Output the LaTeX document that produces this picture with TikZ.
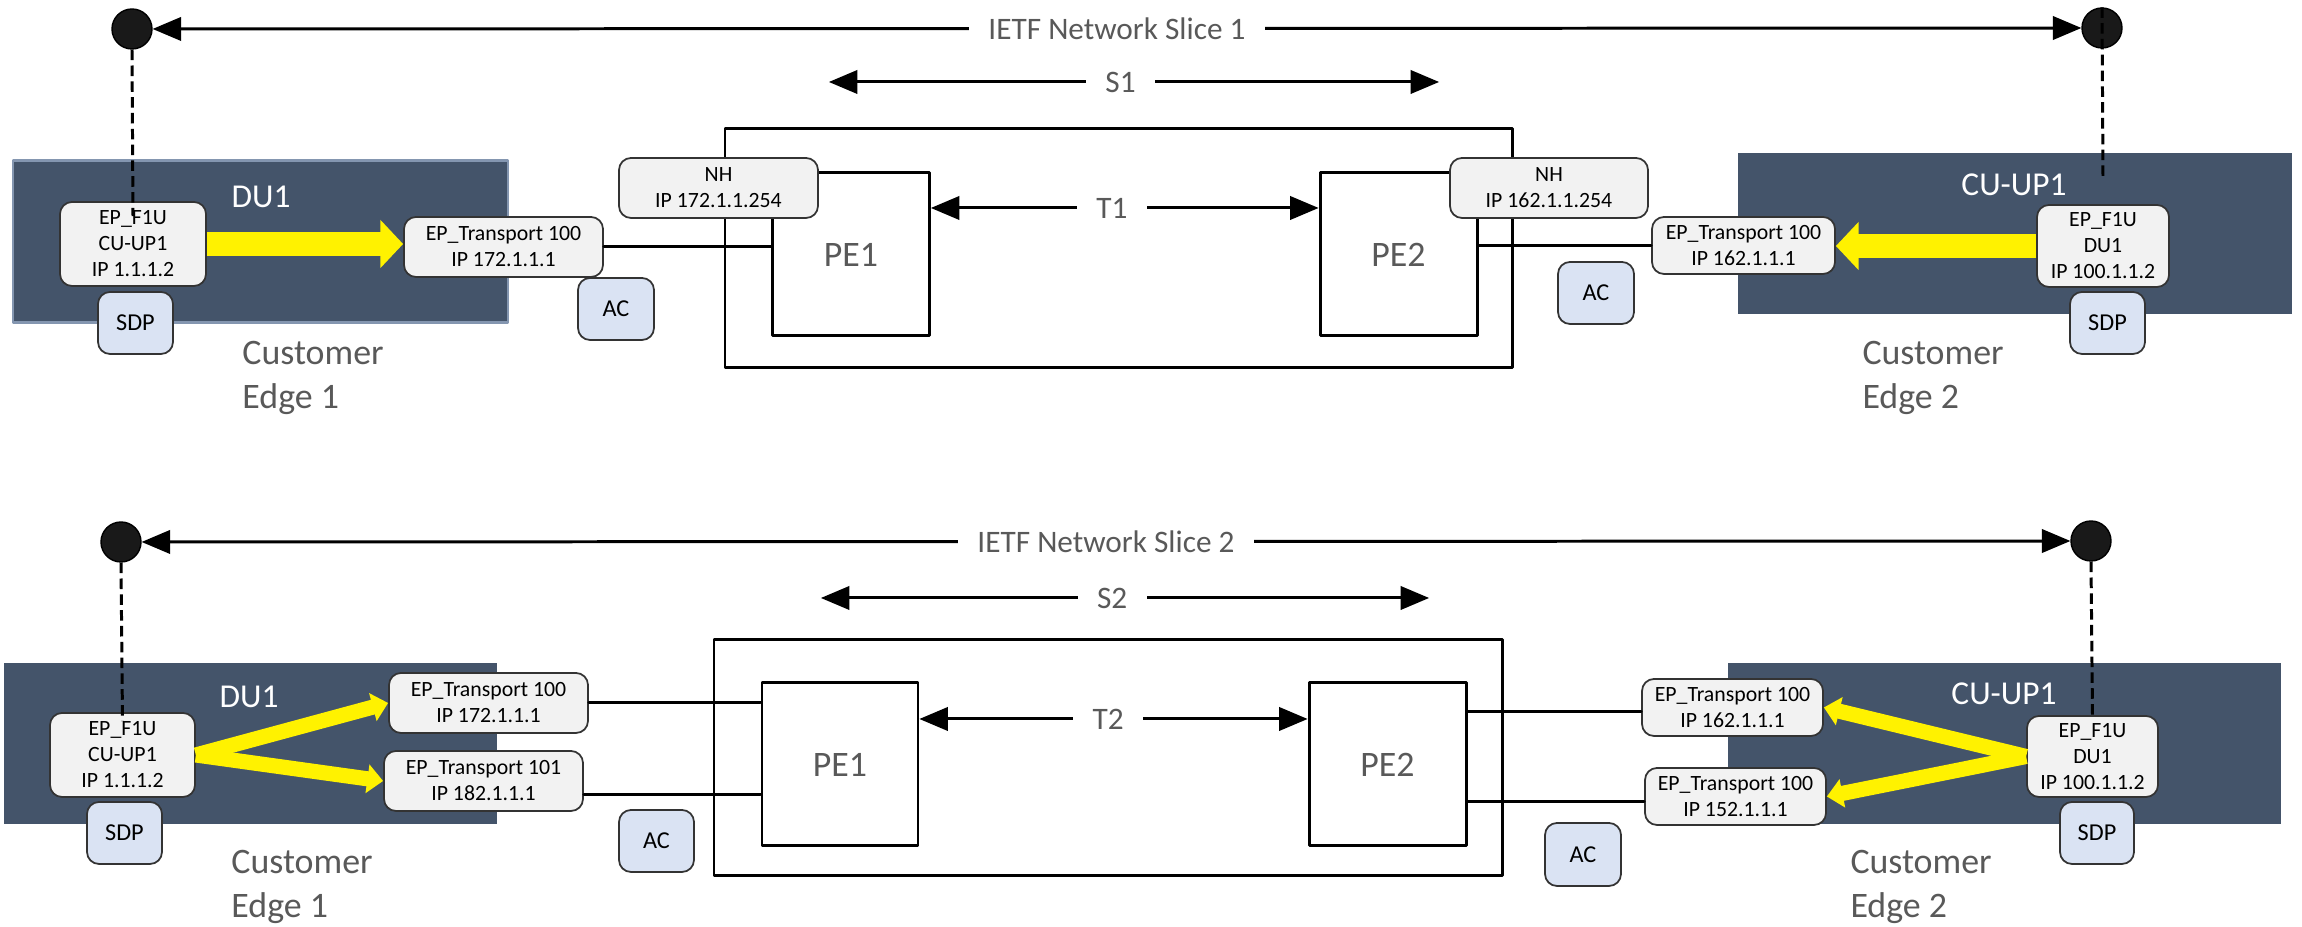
\documentclass[tikz,border=0pt]{standalone}
\usepackage{fontspec}
\setmainfont{Carlito}
\usetikzlibrary{arrows,arrows.meta}

\definecolor{slate}{HTML}{44546A}
\definecolor{slateedge}{HTML}{8496B0}
\definecolor{epfill}{HTML}{F2F2F2}
\definecolor{tagfill}{HTML}{DAE3F3}
\definecolor{txtgray}{HTML}{595959}

\tikzset{
	epbox/.style={draw=black!80,fill=epfill,line width=0.5pt,rounded corners=1.2mm,align=center,inner sep=1pt,font=\fontsize{6.2}{7.4}\selectfont},
	trbox/.style={epbox,minimum width=1.99cm,minimum height=0.6cm},
	f1ubox/.style={epbox,minimum width=1.46cm,minimum height=0.84cm},
	tagbox/.style={draw=black!80,fill=tagfill,line width=0.5pt,rounded corners=1.2mm,inner sep=1pt,minimum width=0.75cm,minimum height=0.62cm,font=\fontsize{6.9}{8}\selectfont},
	pebox/.style={draw,line width=0.85pt,minimum width=1.57cm,minimum height=1.63cm,text=txtgray,font=\fontsize{10.2}{12}\selectfont},
	endpt/.style={circle,draw=black,fill=black!90,line width=0.4pt,minimum size=0.4cm,inner sep=0pt},
	celabel/.style={anchor=west,align=left,inner xsep=0pt,text=txtgray,font=\fontsize{10.2}{12.5}\selectfont},
	grplabel/.style={text=white,font=\fontsize{9.5}{11}\selectfont},
	slicelabel/.style={fill=white,text=txtgray,inner xsep=5.5pt,inner ysep=1pt,font=\fontsize{8.9}{10}\selectfont},
	dashln/.style={line width=0.85pt,dash pattern=on 3pt off 1.5pt,line cap=butt},
	flowbig/.style={yellow,line width=7pt,line cap=butt,-{Triangle[length=6.5pt,width=13.4pt]}},
	flow/.style={yellow,line width=4.3pt,line cap=butt,-{Triangle[length=4.5pt,width=8pt]}}
}

\begin{document}
\begin{tikzpicture}[line cap=round,line join=round,>=triangle 45,x=1cm,y=1cm,line width=0.85pt]
	\useasboundingbox (0,0) rectangle (23.02,9.27);
	% slice 1
	\draw (7.25,7.98) rectangle (15.12,5.59);
	\node[pebox] (pe1A) at (8.51,6.725) {PE1};
	\node[pebox] (pe2A) at (13.985,6.725) {PE2};
	\node[trbox] (nh1) at (7.185,7.39) {NH\\IP 172.1.1.254};
	\node[trbox,minimum width=1.98cm] (nh2) at (15.49,7.39) {NH\\IP 162.1.1.254};
	\draw[fill=slate,draw=slateedge] (0.13,7.66) rectangle (5.08,6.04);
	\fill[slate] (17.38,7.74) rectangle (22.92,6.13);
	\node[grplabel] (du1A) at (2.61,7.30) {DU1};
	\node[grplabel] (cu1A) at (20.14,7.42) {CU-UP1};
	\node[f1ubox] (ef1) at (1.33,6.83) {EP\_F1U\\CU-UP1\\IP 1.1.1.2};
	\node[trbox] (tr1) at (5.035,6.80) {EP\_Transport 100\\IP 172.1.1.1};
	\node[trbox,minimum width=1.83cm,minimum height=0.57cm] (tr2) at (17.435,6.815) {EP\_Transport 100\\IP 162.1.1.1};
	\node[f1ubox,minimum width=1.32cm,minimum height=0.82cm] (ef2) at (21.03,6.81) {EP\_F1U\\DU1\\IP 100.1.1.2};
	\node[tagbox] (sdp1) at (1.355,6.04) {SDP};
	\node[tagbox] (sdp2) at (21.075,6.04) {SDP};
	\node[tagbox,minimum width=0.76cm] (ac1) at (6.16,6.18) {AC};
	\node[tagbox,minimum width=0.76cm] (ac2) at (15.96,6.34) {AC};
	\node[celabel] (ce1) at (2.41,5.49) {Customer\\Edge 1};
	\node[celabel] (ce2) at (18.61,5.49) {Customer\\Edge 2};
	\draw (tr1.east) -- (tr1.east -| pe1A.west);
	\draw (tr2.west) -- (tr2.west -| pe2A.east);
	\draw[flowbig] (ef1.east) -- (ef1.east -| tr1.west);
	\draw[flowbig] (ef2.west) -- (ef2.west -| tr2.east);
	\draw[<->] ([yshift=4.65mm]pe1A.east) -- ([yshift=4.65mm]pe2A.west) node[slicelabel,pos=0.467] {T1};
	\coordinate (s1l) at (8.29,8.45);
	\coordinate (s1r) at (14.39,8.45);
	\draw[<->] (s1l) -- (s1r) node[slicelabel,pos=0.478] {S1};
	\node[endpt] (dotA) at (1.32,8.98) {};
	\node[endpt] (dotB) at (21.02,8.99) {};
	\draw[<->] (dotA) -- (dotB) node[slicelabel,midway] {IETF Network Slice 1};
	\draw[dashln] (dotA.south) -- ([yshift=-1.5mm]ef1.north);
	\draw[dashln] (dotB.north) -- ([yshift=2.7mm]ef2.north);
	% slice 2
	\draw (7.14,2.87) rectangle (15.02,0.51);
	\node[pebox,minimum width=1.56cm] (pe1B) at (8.40,1.625) {PE1};
	\node[pebox] (pe2B) at (13.875,1.625) {PE2};
	\fill[slate] (0.04,2.64) rectangle (4.97,1.03);
	\fill[slate] (17.28,2.64) rectangle (22.81,1.03);
	\node[grplabel] (du1B) at (2.49,2.30) {DU1};
	\node[grplabel] (cu1B) at (20.04,2.33) {CU-UP1};
	\node[f1ubox,minimum width=1.45cm] (ef3) at (1.225,1.72) {EP\_F1U\\CU-UP1\\IP 1.1.1.2};
	\node[trbox] (tr3) at (4.885,2.24) {EP\_Transport 100\\IP 172.1.1.1};
	\node[trbox] (tr4) at (4.835,1.46) {EP\_Transport 101\\IP 182.1.1.1};
	\node[trbox,minimum width=1.81cm,minimum height=0.57cm] (tr5) at (17.325,2.195) {EP\_Transport 100\\IP 162.1.1.1};
	\node[trbox,minimum width=1.81cm,minimum height=0.57cm] (tr6) at (17.355,1.305) {EP\_Transport 100\\IP 152.1.1.1};
	\node[f1ubox,minimum width=1.31cm,minimum height=0.81cm] (ef4) at (20.925,1.705) {EP\_F1U\\DU1\\IP 100.1.1.2};
	\node[tagbox] (sdp3) at (1.245,0.94) {SDP};
	\node[tagbox,minimum width=0.74cm] (sdp4) at (20.97,0.94) {SDP};
	\node[tagbox] (ac3) at (6.565,0.86) {AC};
	\node[tagbox,minimum width=0.76cm,minimum height=0.63cm] (ac4) at (15.83,0.725) {AC};
	\node[celabel] (ce3) at (2.30,0.405) {Customer\\Edge 1};
	\node[celabel] (ce4) at (18.49,0.405) {Customer\\Edge 2};
	\coordinate (tr4o) at ([yshift=-1.4mm]tr4.east);
	\coordinate (tr5o) at ([yshift=-0.45mm]tr5.west);
	\coordinate (tr6o) at ([yshift=-0.55mm]tr6.west);
	\draw (tr3.east) -- (tr3.east -| pe1B.west);
	\draw (tr4o) -- (tr4o -| pe1B.west);
	\draw (tr5o) -- (tr5o -| pe2B.east);
	\draw (tr6o) -- (tr6o -| pe2B.east);
	\draw[flow] (ef3.east) -- (tr3.west);
	\draw[flow] (ef3.east) -- (tr4.west);
	\draw[flow] (ef4.west) -- (tr5.east);
	\draw[flow] (ef4.west) -- (tr6.east);
	\draw[<->] ([yshift=4.55mm]pe1B.east) -- ([yshift=4.55mm]pe2B.west) node[slicelabel,pos=0.486] {T2};
	\coordinate (s2l) at (8.21,3.29);
	\coordinate (s2r) at (14.29,3.29);
	\draw[<->] (s2l) -- (s2r) node[slicelabel,pos=0.479] {S2};
	\node[endpt] (dotC) at (1.21,3.85) {};
	\node[endpt] (dotD) at (20.91,3.86) {};
	\draw[<->] (dotC) -- (dotD) node[slicelabel,midway] {IETF Network Slice 2};
	\draw[dashln] (dotC.south) -- ([yshift=-0.9mm]ef3.north);
	\draw[dashln] (dotD.south) -- (ef4.north);
\end{tikzpicture}
\end{document}
